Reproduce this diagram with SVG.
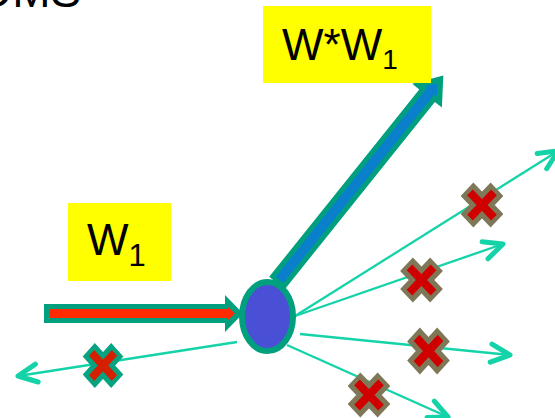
<svg xmlns="http://www.w3.org/2000/svg" width="555" height="418" viewBox="0 0 555 418">
  <style>
    .label { font-family: "Liberation Sans", Arial, sans-serif; fill: #000; }
    .box { fill: #FFFF00; }
    .ray { fill: none; stroke: #14D3A8; stroke-width: 2.3; marker-end: url(#chev); }
    .xo { fill: none; stroke: #7F7858; stroke-width: 18; filter: url(#soft); }
    .xi { fill: none; stroke: #D10000; stroke-width: 8; }
  </style>
  <defs>
    <marker id="chev" markerUnits="userSpaceOnUse" orient="auto" overflow="visible" refX="0" refY="0" markerWidth="1" markerHeight="1">
      <path d="M-19,-9 L0,0 L-19,9" fill="none" stroke="#14D3A8" stroke-width="5" stroke-linecap="round" stroke-linejoin="round"/>
    </marker>
    <filter id="soft" x="-20%" y="-20%" width="140%" height="140%">
      <feGaussianBlur stdDeviation="0.7"/>
    </filter>
    <!-- blocked-path cross -->
    <g id="cross">
      <path class="xo" d="M-15,-15 L15,15 M15,-15 L-15,15"/>
      <path class="xi" d="M-12,-12 L12,12 M12,-12 L-12,12"/>
    </g>
  </defs>

  <rect width="555" height="418" fill="#FFFFFF"/>

  <!-- heading, clipped at the top edge -->
  <text class="label" x="-21" y="7" font-size="46">DMS</text>

  <!-- outgoing rays -->
  <g id="connectors">
    <line class="ray" x1="295" y1="316" x2="558" y2="151"/>
    <line class="ray" x1="295" y1="316" x2="503" y2="244"/>
    <line class="ray" x1="300" y1="334" x2="510" y2="355"/>
    <line class="ray" x1="287" y1="345" x2="448" y2="417"/>
    <line class="ray" x1="237" y1="342" x2="18" y2="376"/>
  </g>

  <!-- input weight arrow -->
  <g id="input-arrow">
    <path d="M44,304 L225,304 L225,295 L243,313.5 L225,332 L225,323 L44,323 Z" fill="#00A07E"/>
    <path d="M50,309 L228,309 L228,307 L235,313.5 L228,320 L228,318 L50,318 Z" fill="#FF2A00"/>
  </g>

  <!-- output weight arrow -->
  <g id="output-arrow" transform="translate(277,283) rotate(-51.3)">
    <path d="M0,-10 L240,-10 L240,-19 L266,0 L240,19 L240,10 L0,10 Z" fill="#00A07E"/>
    <path d="M4,-5 L246,-5 L246,-8 L256,0 L246,8 L246,5 L4,5 Z" fill="#0A80CC"/>
  </g>

  <!-- neuron -->
  <g id="neuron">
    <ellipse cx="267.5" cy="316.5" rx="25.5" ry="34.5" fill="#4A50D6" stroke="#00A07E" stroke-width="6"/>
  </g>

  <!-- crosses on the blocked rays -->
  <g id="crosses">
    <use href="#cross" transform="translate(482,205) scale(1,1.05)"/>
    <use href="#cross" transform="translate(421.5,280) scale(1,1.05)"/>
    <use href="#cross" transform="translate(428.5,351) scale(1,1.1)"/>
    <use href="#cross" transform="translate(369,395) scale(1,1.05)"/>
    <g transform="translate(103,365.5) scale(0.95,1.05)">
      <path d="M-15,-15 L15,15 M15,-15 L-15,15" fill="none" stroke="#05A37F" stroke-width="18"/>
      <path d="M-12,-12 L12,12 M12,-12 L-12,12" fill="none" stroke="#D42000" stroke-width="8"/>
    </g>
  </g>

  <!-- labels -->
  <g id="label-w1">
    <rect class="box" x="68" y="203" width="103" height="78"/>
    <text class="label" x="87" y="255" font-size="44">W<tspan dy="11" font-size="31">1</tspan></text>
  </g>
  <g id="label-wxw1">
    <rect class="box" x="263" y="6" width="168" height="77"/>
    <text class="label" x="282" y="60" font-size="44">W*W<tspan dy="9" font-size="28">1</tspan></text>
  </g>
</svg>
